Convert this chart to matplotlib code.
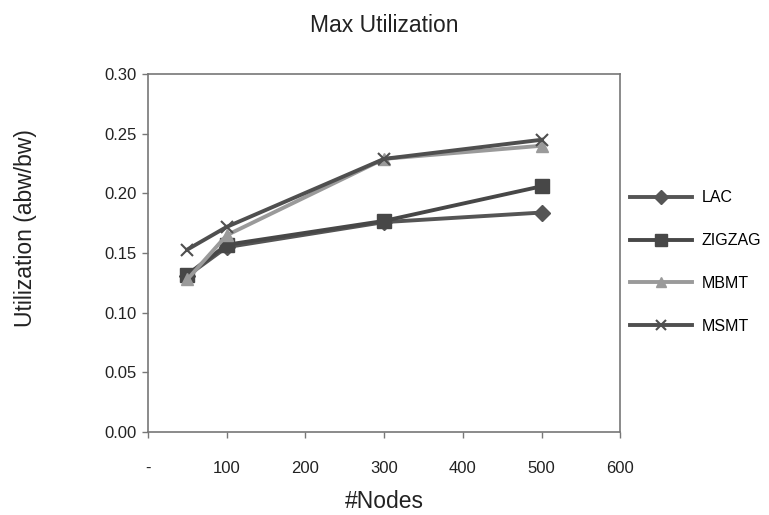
import matplotlib
matplotlib.use("Agg")
import matplotlib.pyplot as plt
from matplotlib.ticker import FuncFormatter

# node counts and max utilization per scheme
nodes = [50, 100, 300, 500]
lac = [0.131, 0.155, 0.176, 0.184]
zigzag = [0.132, 0.157, 0.177, 0.206]
mbmt = [0.128, 0.165, 0.229, 0.240]
msmt = [0.153, 0.172, 0.229, 0.245]

series = [
    ("LAC", lac, "#555555", "D", 8),
    ("ZIGZAG", zigzag, "#474747", "s", 10),
    ("MBMT", mbmt, "#9a9a9a", "^", 9),
    ("MSMT", msmt, "#4f4f4f", "x", 9),
]

plt.rcParams['font.family'] = ['Liberation Sans', 'DejaVu Sans']

fig = plt.figure(figsize=(7.69, 5.15), dpi=100)
ax = fig.add_axes([0.1925, 0.161, 0.614, 0.695])

for name, vals, col, mk, ms in series:
    ax.plot(nodes, vals, color=col, lw=2.8, marker=mk, markersize=ms,
            markeredgewidth=1.5 if mk == "x" else 1.0, label=name)

ax.set_xlim(0, 600)
ax.set_ylim(0, 0.30)
ax.set_xticks(range(0, 601, 100))
ax.set_yticks([i * 0.05 for i in range(7)])
ax.xaxis.set_major_formatter(FuncFormatter(lambda v, p: "-" if v == 0 else "%d" % v))
ax.yaxis.set_major_formatter(FuncFormatter(lambda v, p: "%.2f" % v))

for s in ax.spines.values():
    s.set_color("#777777")
    s.set_linewidth(1.2)
ax.tick_params(axis="both", colors="#777777", labelcolor="#222222", labelsize=12,
               length=4, width=1)
ax.tick_params(axis="x", pad=17)
ax.tick_params(axis="y", pad=4)

ax.set_title("Max Utilization", fontsize=16.5, color="#222222", pad=30)
ax.set_xlabel("#Nodes", fontsize=16.5, color="#222222", labelpad=10)
ax.set_ylabel("Utilization (abw/bw)", fontsize=16.5, color="#222222")
ax.yaxis.set_label_coords(-0.235, 0.57)

ax.legend(loc="center left", bbox_to_anchor=(1.0, 0.475), frameon=False,
          fontsize=11.5, handlelength=3.9, labelspacing=1.75, handletextpad=0.6,
          borderaxespad=0.2, markerscale=0.85)

fig.savefig("out.png", dpi=100)
